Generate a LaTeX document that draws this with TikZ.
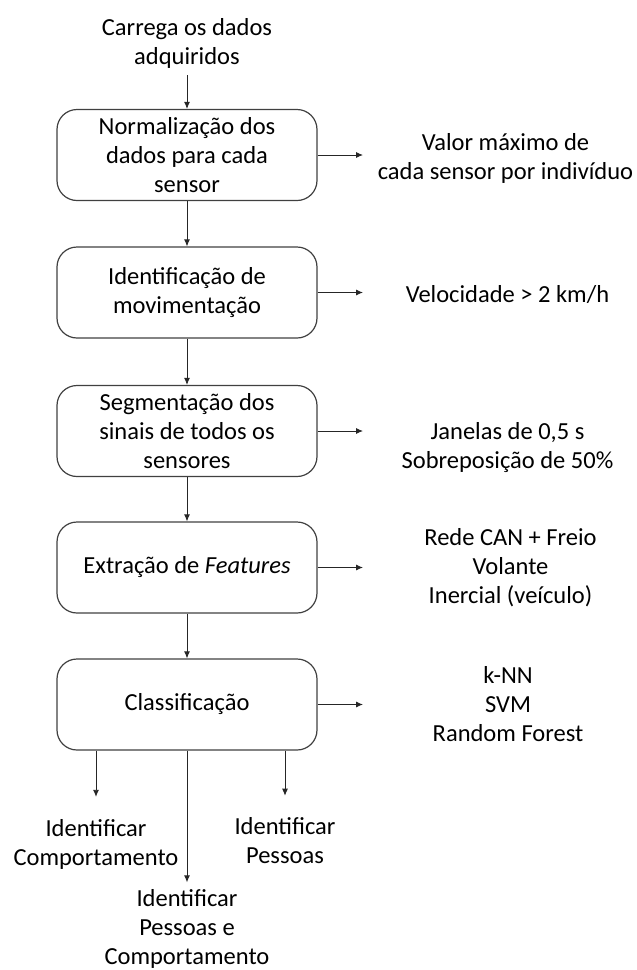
\documentclass[tikz,border=0pt]{standalone}
\usepackage{fontspec}
\setmainfont{Carlito}
\usetikzlibrary{arrows.meta, positioning}

\newcommand{\txtfont}{\fontsize{24.5pt}{29pt}\selectfont}
\tikzset{
  stepbox/.style={draw=black!75, line width=1.2pt, rounded corners=20pt,
    minimum width=260pt, minimum height=91pt, align=center, inner sep=2pt, font=\txtfont},
  txt/.style={align=center, inner sep=0pt, font=\txtfont},
  arr/.style={-{Latex[length=7pt,width=6pt]}, line width=0.9pt, draw=black!85},
}

\begin{document}
\begin{tikzpicture}[x=1pt, y=-1pt]
\useasboundingbox (0,0) rectangle (637,970);

% Input
\node[txt] (inp) at (187,43) {Carrega os dados\\adquiridos};

% Steps
\node[stepbox] (norm) at (187,155) {Normalização dos\\dados para cada\\sensor};
\node[stepbox] (mov) at (187,292.5) {Identificação de\\movimentação};
\node[stepbox] (seg) at (187,431) {Segmentação dos\\sinais de todos os\\sensores};
\node[stepbox] (feat) at (187,567.5) {Extração de \textit{Features}};
\node[stepbox] (cls) at (187,704.5) {Classificação};

% Parameters
\node[txt] (pnorm) at (505.5,158) {Valor máximo de\\cada sensor por indivíduo};
\node[txt] (pmov) at (507.5,295) {Velocidade > 2 km/h};
\node[txt] (pseg) at (507.5,448) {Janelas de 0,5 s\\Sobreposição de 50\%};
\node[txt] (pfeat) at (510.5,568) {Rede CAN + Freio\\Volante\\Inercial (veículo)};
\node[txt] (pcls) at (508,704) {k-NN\\SVM\\Random Forest};

% Outputs
\node[txt] (obeh) at (96,844) {Identificar\\Comportamento};
\node[txt] (oboth) at (187,929) {Identificar\\Pessoas e\\Comportamento};
\node[txt] (oppl) at (285,841) {Identificar\\Pessoas};

% Arrow tips on the right
\coordinate (tipcol) at (363,0);

% Arrows down
\draw[arr, shorten <=7pt] (inp.south) -- (norm.north);
\draw[arr] (norm.south) -- (mov.north);
\draw[arr] (mov.south) -- (seg.north);
\draw[arr] (seg.south) -- (feat.north);
\draw[arr] (feat.south) -- (cls.north);

% Arrows right
\draw[arr] (norm.east) -- (norm.east -| tipcol);
\draw[arr] (mov.east) -- (mov.east -| tipcol);
\draw[arr] (seg.east) -- (seg.east -| tipcol);
\draw[arr] (feat.east) -- (feat.east -| tipcol);
\draw[arr] (cls.east) -- (cls.east -| tipcol);

% Arrows to outputs
\draw[arr, shorten >=22pt] (cls.south -| obeh) -- (obeh.north);
\draw[arr, shorten >=7pt] (cls.south -| oboth) -- (oboth.north);
\draw[arr, shorten >=22pt] (cls.south -| oppl) -- (oppl.north);
\end{tikzpicture}
\end{document}
